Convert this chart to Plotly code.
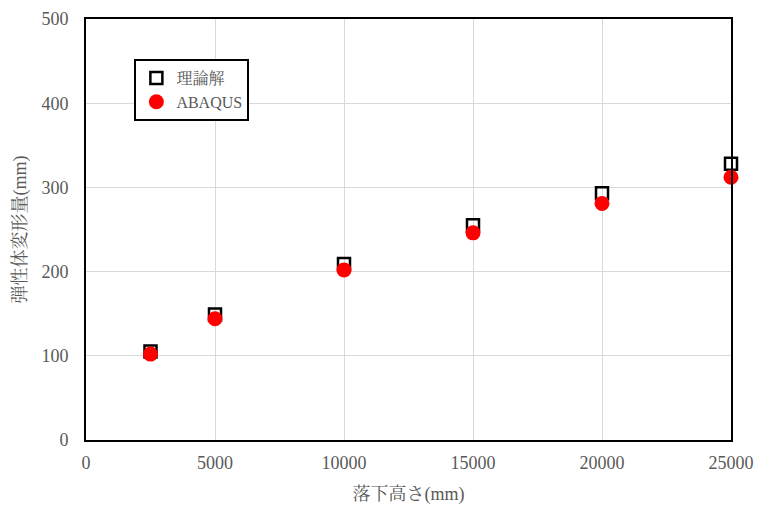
import plotly.graph_objects as go

heights = [2500, 5000, 10000, 15000, 20000, 25000]
theory = [105, 149, 209, 255, 293, 328]
abaqus = [102, 144, 202, 246, 281, 312]
x_ticks = [0, 5000, 10000, 15000, 20000, 25000]
y_ticks = [0, 100, 200, 300, 400, 500]

FONT = "Liberation Serif, Noto Serif CJK JP, Noto Sans CJK JP, serif"

fig = go.Figure()
fig.add_trace(go.Scatter(
    x=heights, y=theory, mode="markers", name="理論解",
    marker=dict(symbol="square-open", size=12, color="black", line=dict(width=2.5, color="black")),
    cliponaxis=False))
fig.add_trace(go.Scatter(
    x=heights, y=abaqus, mode="markers", name="ABAQUS",
    marker=dict(symbol="circle", size=15, color="#ff0000"),
    cliponaxis=False))

fig.update_layout(
    width=760, height=505,
    margin=dict(l=86, r=29, t=19, b=65, autoexpand=False),
    paper_bgcolor="white", plot_bgcolor="white",
    font=dict(family=FONT, size=17, color="#595959"),
    showlegend=True,
    legend=dict(x=0.075, y=0.905, xanchor="left", yanchor="top",
                bordercolor="black", borderwidth=2, bgcolor="white",
                font=dict(size=16, color="#595959"), itemwidth=30,
                itemsizing="trace"),
    xaxis=dict(range=[0, 25000], tickvals=x_ticks, ticktext=[str(v) for v in x_ticks],
               showgrid=True, gridcolor="#d9d9d9", gridwidth=1,
               showline=True, linecolor="black", linewidth=2, mirror=True,
               ticks="", zeroline=False, automargin=False,
               ticklabeloverflow="allow", ticklabelstandoff=5,
               title=dict(text="落下高さ(mm)", font=dict(size=18), standoff=31),
               tickfont=dict(size=18)),
    yaxis=dict(range=[0, 500], tickvals=y_ticks, ticktext=[str(v) for v in y_ticks],
               showgrid=True, gridcolor="#d9d9d9", gridwidth=1,
               showline=True, linecolor="black", linewidth=2, mirror=True,
               ticks="", zeroline=False, automargin=False,
               ticklabeloverflow="allow", ticklabelstandoff=12,
               title=dict(text="弾性体変形量(mm)", font=dict(size=18), standoff=10),
               tickfont=dict(size=18)),
)

# remove the browser's default 8px body margin so the figure fills the window
fig.write_html("out.html", config={"displayModeBar": False},
               post_script="document.body.style.margin='0';document.body.style.overflow='hidden';")
